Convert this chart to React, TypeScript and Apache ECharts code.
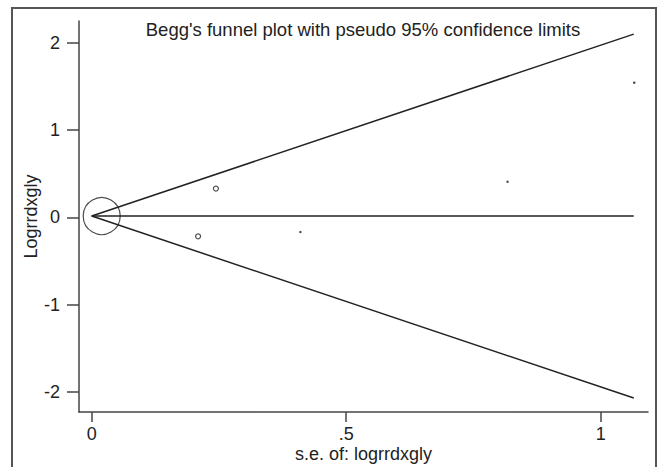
import React, { useEffect, useRef } from "react";
import * as echarts from "echarts";

// Study data (standard error vs log relative risk)
const studySe = [0.0196, 0.209, 0.244, 0.41, 0.817, 1.066];
const studyLogrr = [0.015, -0.217, 0.33, -0.168, 0.408, 1.543];
const studyMarkerSize = [37, 5, 5, 2.5, 2.5, 2.5];

// Pseudo 95% confidence limits
const funnelSe = [0, 1.065];
const upperLimit = [0.015, 2.1];
const lowerLimit = [0.015, -2.07];
const pooledEstimate = [0.015, 0.015];

const xTicks = [0, 0.5, 1];
const xTickLabels = ["0", ".5", "1"];
const yTicks = [-2, -1, 0, 1, 2];
const yTickLabels = ["-2", "-1", "0", "1", "2"];

const titleText = "Begg's funnel plot with pseudo 95% confidence limits";
const xName = "s.e. of: logrrdxgly";
const yName = "Logrrdxgly";

const FONT = "'Liberation Sans', Arial, sans-serif";
const INK = "#222";

export default function App() {
  const ref = useRef<HTMLDivElement>(null);
  useEffect(() => {
    if (!ref.current) return;
    const chart = echarts.init(ref.current, null, { renderer: "svg" });
    const pair = (xs: number[], ys: number[]) => xs.map((x, i) => [x, ys[i]]);
    chart.setOption({
      animation: false,
      backgroundColor: "#fff",
      textStyle: { fontFamily: FONT, color: INK },
      grid: { left: 79, right: 14, top: 21, bottom: 55, containLabel: false, outerBoundsMode: "none" },
      graphic: [
        {
          type: "rect",
          shape: { x: 12, y: 8, width: 644, height: 470 },
          style: { fill: "none", stroke: "#555", lineWidth: 2 },
          silent: true,
        },
        {
          type: "text",
          x: 363,
          y: 29,
          style: {
            text: titleText,
            fontFamily: FONT,
            fontSize: 18.5,
            fill: INK,
            textAlign: "center",
            textVerticalAlign: "middle",
          },
        },
      ],
      xAxis: {
        type: "value",
        min: -0.025,
        max: 1.093,
        name: xName,
        nameLocation: "middle",
        nameGap: 33,
        nameMoveOverlap: false,
        nameTextStyle: { fontFamily: FONT, fontSize: 18, color: INK },
        axisLine: { show: true, onZero: false, lineStyle: { color: "#444", width: 1.5 } },
        axisTick: { show: true, inside: false, length: 10, customValues: xTicks, lineStyle: { color: "#444", width: 1.5 } },
        axisLabel: {
          customValues: xTicks,
          margin: 13,
          fontFamily: FONT,
          fontSize: 18,
          color: INK,
          formatter: (v: number) => xTickLabels[xTicks.indexOf(v)] ?? String(v),
        },
        splitLine: { show: false },
      },
      yAxis: {
        type: "value",
        min: -2.23,
        max: 2.25,
        name: yName,
        nameLocation: "middle",
        nameGap: 39,
        nameMoveOverlap: false,
        nameTextStyle: { fontFamily: FONT, fontSize: 18, color: INK },
        axisLine: { show: true, onZero: false, lineStyle: { color: "#444", width: 1.5 } },
        axisTick: { show: true, inside: false, length: 12, customValues: yTicks, lineStyle: { color: "#444", width: 1.5 } },
        axisLabel: {
          customValues: yTicks,
          margin: 19,
          fontFamily: FONT,
          fontSize: 18,
          color: INK,
          formatter: (v: number) => yTickLabels[yTicks.indexOf(v)] ?? String(v),
        },
        splitLine: { show: false },
      },
      series: [
        {
          type: "line",
          data: pair(funnelSe, upperLimit),
          showSymbol: false,
          lineStyle: { color: INK, width: 1.5 },
          silent: true,
        },
        {
          type: "line",
          data: pair(funnelSe, lowerLimit),
          showSymbol: false,
          lineStyle: { color: INK, width: 1.5 },
          silent: true,
        },
        {
          type: "line",
          data: pair(funnelSe, pooledEstimate),
          showSymbol: false,
          lineStyle: { color: INK, width: 1.5 },
          silent: true,
        },
        {
          type: "scatter",
          data: pair(studySe, studyLogrr).map((d, i) => ({
            value: d,
            symbolSize: studyMarkerSize[i],
            itemStyle:
              studyMarkerSize[i] > 3
                ? { color: "rgba(0,0,0,0)", borderColor: INK, borderWidth: 1.2 }
                : { color: INK, borderWidth: 0 },
          })),
          symbol: "circle",
          silent: true,
        },
      ],
    });
    return () => chart.dispose();
  }, []);
  return (
    <div
      ref={ref}
      style={{ position: "absolute", left: 0, top: 0, width: 662, height: 467, background: "#fff" }}
    />
  );
}
